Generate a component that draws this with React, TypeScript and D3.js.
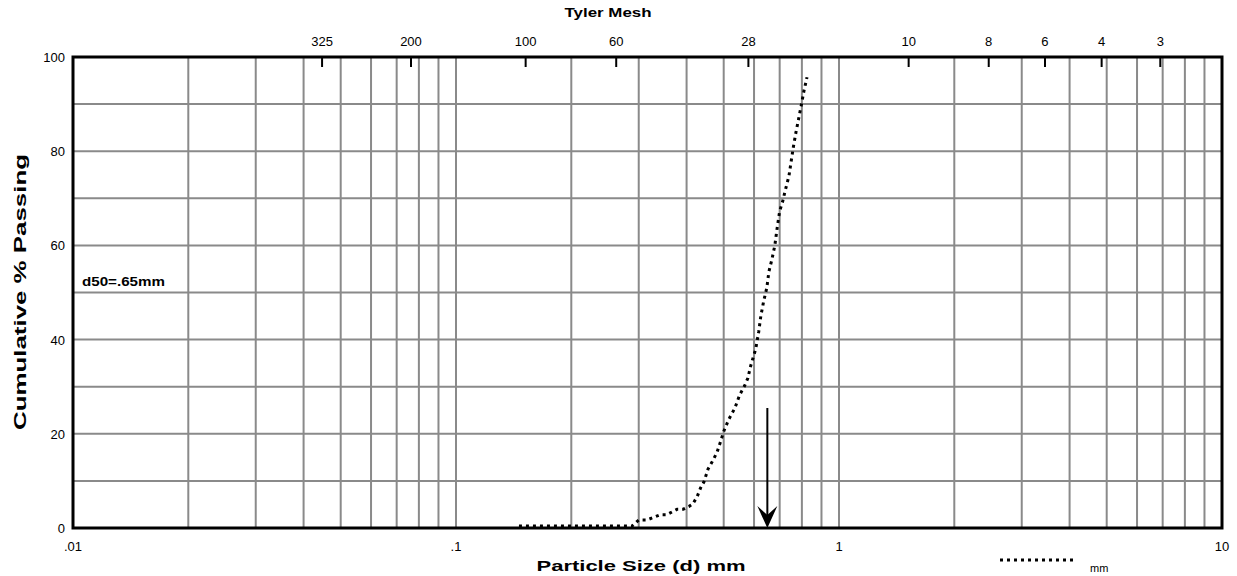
import React from 'react';
import * as d3 from 'd3';

// cumulative curve: particle size (mm) / % passing
const sizes = [0.146, 0.288, 0.300, 0.315, 0.341, 0.355, 0.378, 0.392, 0.406, 0.415, 0.426, 0.435, 0.444, 0.455, 0.466, 0.480, 0.490, 0.500, 0.515, 0.535, 0.550, 0.567, 0.578, 0.588, 0.606, 0.617, 0.625, 0.636, 0.648, 0.656, 0.668, 0.680, 0.689, 0.700, 0.712, 0.723, 0.740, 0.749, 0.760, 0.772, 0.785, 0.796, 0.810, 0.825];
const passing = [0.4, 0.4, 1.7, 1.7, 2.8, 2.8, 4.0, 4.0, 4.6, 5.1, 6.6, 8.5, 9.8, 12.5, 14.0, 16.0, 18.2, 20.5, 23.0, 25.5, 28.2, 30.2, 31.8, 34.4, 38.0, 41.6, 45.0, 48.2, 51.0, 54.4, 57.0, 60.0, 63.5, 67.3, 69.2, 71.5, 74.7, 77.5, 80.9, 84.0, 87.0, 89.5, 92.8, 95.7];

const yTicks = [0, 20, 40, 60, 80, 100];
const yGrid = [10, 20, 30, 40, 50, 60, 70, 80, 90];
const xTickValues = [0.01, 0.1, 1, 10];
const xTickLabels = ['.01', '.1', '1', '10'];
const meshLabels = ['325', '200', '100', '60', '28', '10', '8', '6', '4', '3'];
const meshSizes = [0.0447, 0.0763, 0.152, 0.262, 0.58, 1.52, 2.46, 3.45, 4.85, 6.9];
const d50 = 0.65;

const W = 1237, H = 576;
const font = 'Liberation Sans, Arial, sans-serif';

export default function App() {
  const x = d3.scaleLog().domain([0.01, 10]).range([73, 1222]);
  const y = d3.scaleLinear().domain([0, 100]).range([528, 57]);

  // minor grid: 1..9 in every decade, endpoints excluded
  const xGrid: number[] = [];
  [0.01, 0.1, 1].forEach(dec => {
    for (let k = 1; k <= 9; k++) {
      const v = dec * k;
      if (v > 0.01 && v < 10) xGrid.push(v);
    }
  });
  xGrid.push(0.1, 1);

  const line = d3.line<number>()
    .x((d, i) => x(sizes[i]))
    .y(d => y(d));

  const [x0, x1] = x.range();
  const [yb, yt] = y.range();
  const ax = x(d50);

  return (
    <div style={{ position: 'absolute', left: 0, top: 0 }}>
      <svg width={W} height={H} style={{ display: 'block', background: '#fff' }} fontFamily={font}>
        {/* grid */}
        <g stroke="#8a8a8a" strokeWidth={2}>
          {xGrid.map((v, i) => <line key={'gx' + i} x1={x(v)} x2={x(v)} y1={yt} y2={yb} />)}
          {yGrid.map(v => <line key={'gy' + v} x1={x0} x2={x1} y1={y(v)} y2={y(v)} />)}
        </g>

        {/* frame */}
        <rect x={x0} y={yt} width={x1 - x0} height={yb - yt} fill="none" stroke="#000" strokeWidth={3} />

        {/* tyler mesh ticks */}
        <g stroke="#000" strokeWidth={2}>
          {meshSizes.map((v, i) => <line key={'m' + i} x1={x(v)} x2={x(v)} y1={yt} y2={yt + 10} />)}
        </g>
        <g fontSize={13} textAnchor="middle" fill="#000">
          {meshSizes.map((v, i) => <text key={'ml' + i} x={x(v)} y={46}>{meshLabels[i]}</text>)}
        </g>
        <text x={608} y={17} fontSize={12} fontWeight="bold" textAnchor="middle"
          textLength={87} lengthAdjust="spacingAndGlyphs">Tyler Mesh</text>

        {/* y axis labels */}
        <g fontSize={13} textAnchor="end" fill="#000">
          {yTicks.map(v => <text key={'yl' + v} x={65} y={y(v) + 5}>{v}</text>)}
        </g>
        <text transform="translate(26,292) rotate(-90)" fontSize={16} fontWeight="bold" textAnchor="middle"
          textLength={276} lengthAdjust="spacingAndGlyphs">Cumulative % Passing</text>

        {/* x axis labels */}
        <g fontSize={13} textAnchor="middle" fill="#000">
          {xTickValues.map((v, i) => <text key={'xl' + i} x={x(v)} y={551}>{xTickLabels[i]}</text>)}
        </g>
        <text x={641} y={571} fontSize={14} fontWeight="bold" textAnchor="middle"
          textLength={209} lengthAdjust="spacingAndGlyphs">Particle Size (d) mm</text>

        {/* d50 note */}
        <text x={82} y={286} fontSize={12} fontWeight="bold" textLength={83} lengthAdjust="spacingAndGlyphs">d50=.65mm</text>

        {/* curve */}
        <path d={line(passing) || ''} fill="none" stroke="#000" strokeWidth={3} strokeDasharray="3 4" />

        {/* d50 arrow */}
        <line x1={ax} x2={ax} y1={408} y2={515} stroke="#000" strokeWidth={2} />
        <path d={`M${ax},${yb} L${ax - 10},${yb - 22} L${ax},${yb - 13} L${ax + 10},${yb - 22} Z`} fill="#000" />

        {/* legend */}
        <line x1={1000} x2={1073} y1={560} y2={560} stroke="#000" strokeWidth={3} strokeDasharray="3 4" />
        <text x={1090} y={572} fontSize={11}>mm</text>
      </svg>
    </div>
  );
}
